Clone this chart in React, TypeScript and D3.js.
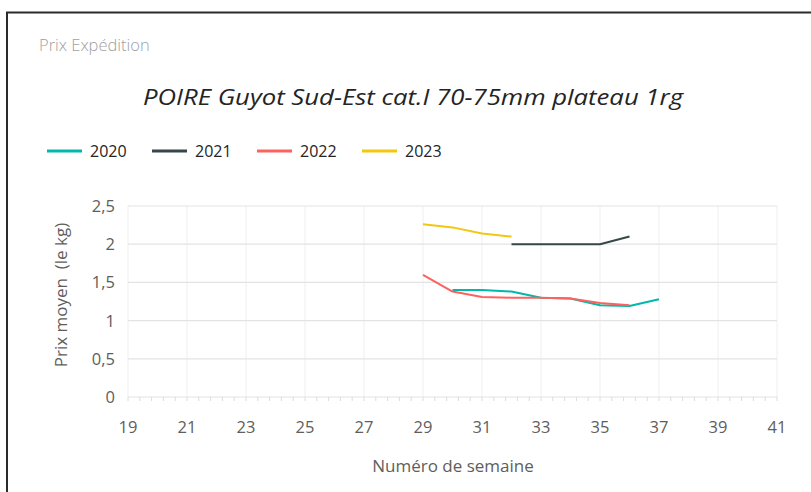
import { useRef, useEffect } from 'react';
import * as d3 from 'd3';

// weeks and average price per year
const weeks2020 = [30, 31, 32, 33, 34, 35, 36, 37];
const prices2020 = [1.4, 1.4, 1.38, 1.3, 1.29, 1.2, 1.19, 1.28];
const weeks2021 = [32, 33, 34, 35, 36];
const prices2021 = [2.0, 2.0, 2.0, 2.0, 2.1];
const weeks2022 = [29, 30, 31, 32, 33, 34, 35, 36];
const prices2022 = [1.6, 1.38, 1.31, 1.3, 1.3, 1.29, 1.23, 1.2];
const weeks2023 = [29, 30, 31, 32];
const prices2023 = [2.26, 2.22, 2.14, 2.1];

const years = ['2020', '2021', '2022', '2023'];
const yearColors = ['#01B8AA', '#374649', '#FD625E', '#F2C80F'];
const xTicks = [19, 21, 23, 25, 27, 29, 31, 33, 35, 37, 39, 41];
const yTicks = [0, 0.5, 1, 1.5, 2, 2.5];

const FONT = "'Open Sans', 'Noto Sans', sans-serif";

const App = () => {
	const svgRef = useRef<SVGSVGElement>(null);

	useEffect(() => {
		const svg = d3.select(svgRef.current);
		svg.selectAll('*').remove();

		const W = 811;
		const H = 492;
		svg.attr('width', W).attr('height', H).style('display', 'block');

		// frame (top and left edges only)
		svg.append('line').attr('x1', 6).attr('x2', W).attr('y1', 12.5).attr('y2', 12.5).attr('stroke', '#2b2b2b').attr('stroke-width', 2);
		svg.append('line').attr('x1', 7).attr('x2', 7).attr('y1', 12).attr('y2', H).attr('stroke', '#2b2b2b').attr('stroke-width', 2);

		svg.append('text')
			.attr('x', 39).attr('y', 51)
			.attr('font-family', FONT).attr('font-size', 16.5).attr('font-weight', 300)
			.attr('fill', '#a0a0a0')
			.text('Prix Expédition');

		// title is wide and condensed-looking in the reference: stretch glyphs
		svg.append('text')
			.attr('x', 143).attr('y', 105)
			.attr('textLength', 540).attr('lengthAdjust', 'spacingAndGlyphs')
			.attr('font-family', FONT).attr('font-size', 21).attr('font-style', 'italic')
			.attr('fill', '#252423')
			.text('POIRE Guyot Sud-Est cat.I 70-75mm plateau 1rg');

		// legend
		const legendX = [47, 152, 257, 362];
		years.forEach((yr, i) => {
			const g = svg.append('g').attr('transform', `translate(${legendX[i]},151)`);
			g.append('line').attr('x1', 0).attr('x2', 35).attr('stroke', yearColors[i]).attr('stroke-width', 3);
			g.append('text').attr('x', 43).attr('y', 6)
				.attr('font-family', FONT).attr('font-size', 16)
				.attr('fill', '#252423').text(yr);
		});

		const x = d3.scaleLinear().domain([19, 41]).range([128, 777]);
		const y = d3.scaleLinear().domain([0, 2.5]).range([397, 206]);

		// grid
		svg.append('g').selectAll('line').data(xTicks).join('line')
			.attr('x1', (d) => x(d)).attr('x2', (d) => x(d))
			.attr('y1', y(2.5)).attr('y2', y(0))
			.attr('stroke', '#efefef').attr('stroke-width', 1);
		svg.append('g').selectAll('line').data(yTicks).join('line')
			.attr('x1', x(19)).attr('x2', x(41))
			.attr('y1', (d) => y(d)).attr('y2', (d) => y(d))
			.attr('stroke', '#e3e3e3').attr('stroke-width', 1.2);

		// minor ticks under the x axis
		const minor = d3.range(19, 41.01, 0.4);
		svg.append('g').selectAll('line').data(minor).join('line')
			.attr('x1', (d) => x(d)).attr('x2', (d) => x(d))
			.attr('y1', y(0)).attr('y2', y(0) + 4)
			.attr('stroke', '#dcdcdc');

		// axis labels
		svg.append('g').selectAll('text').data(yTicks).join('text')
			.attr('x', 115).attr('y', (d) => y(d) + 6)
			.attr('text-anchor', 'end')
			.attr('font-family', FONT).attr('font-size', 16.5)
			.attr('fill', '#605E5C')
			.text((d) => d3.format('')(d).replace('.', ','));

		svg.append('g').selectAll('text').data(xTicks).join('text')
			.attr('x', (d) => x(d)).attr('y', 433)
			.attr('text-anchor', 'middle')
			.attr('font-family', FONT).attr('font-size', 16.5)
			.attr('fill', '#605E5C')
			.text((d) => d);

		svg.append('text')
			.attr('transform', 'translate(67,295) rotate(-90)')
			.attr('text-anchor', 'middle')
			.attr('font-family', FONT).attr('font-size', 17)
			.attr('fill', '#605E5C')
			.style('white-space', 'pre')
			.text('Prix moyen  (le kg)');

		svg.append('text')
			.attr('x', 453).attr('y', 472)
			.attr('text-anchor', 'middle')
			.attr('font-family', FONT).attr('font-size', 17)
			.attr('fill', '#605E5C')
			.text('Numéro de semaine');

		// series
		const series = [
			{ weeks: weeks2020, prices: prices2020 },
			{ weeks: weeks2021, prices: prices2021 },
			{ weeks: weeks2022, prices: prices2022 },
			{ weeks: weeks2023, prices: prices2023 },
		];
		const line = d3.line<[number, number]>().x((d) => x(d[0])).y((d) => y(d[1]));
		series.forEach((s, i) => {
			const pts = s.weeks.map((w, j) => [w, s.prices[j]] as [number, number]);
			svg.append('path')
				.attr('d', line(pts))
				.attr('fill', 'none')
				.attr('stroke', yearColors[i])
				.attr('stroke-width', 2)
				.attr('stroke-linejoin', 'round');
		});
	}, []);

	return (
		<div style={{ position: 'absolute', left: 0, top: 0, background: '#fff' }}>
			<svg ref={svgRef} />
		</div>
	);
};

export default App;
